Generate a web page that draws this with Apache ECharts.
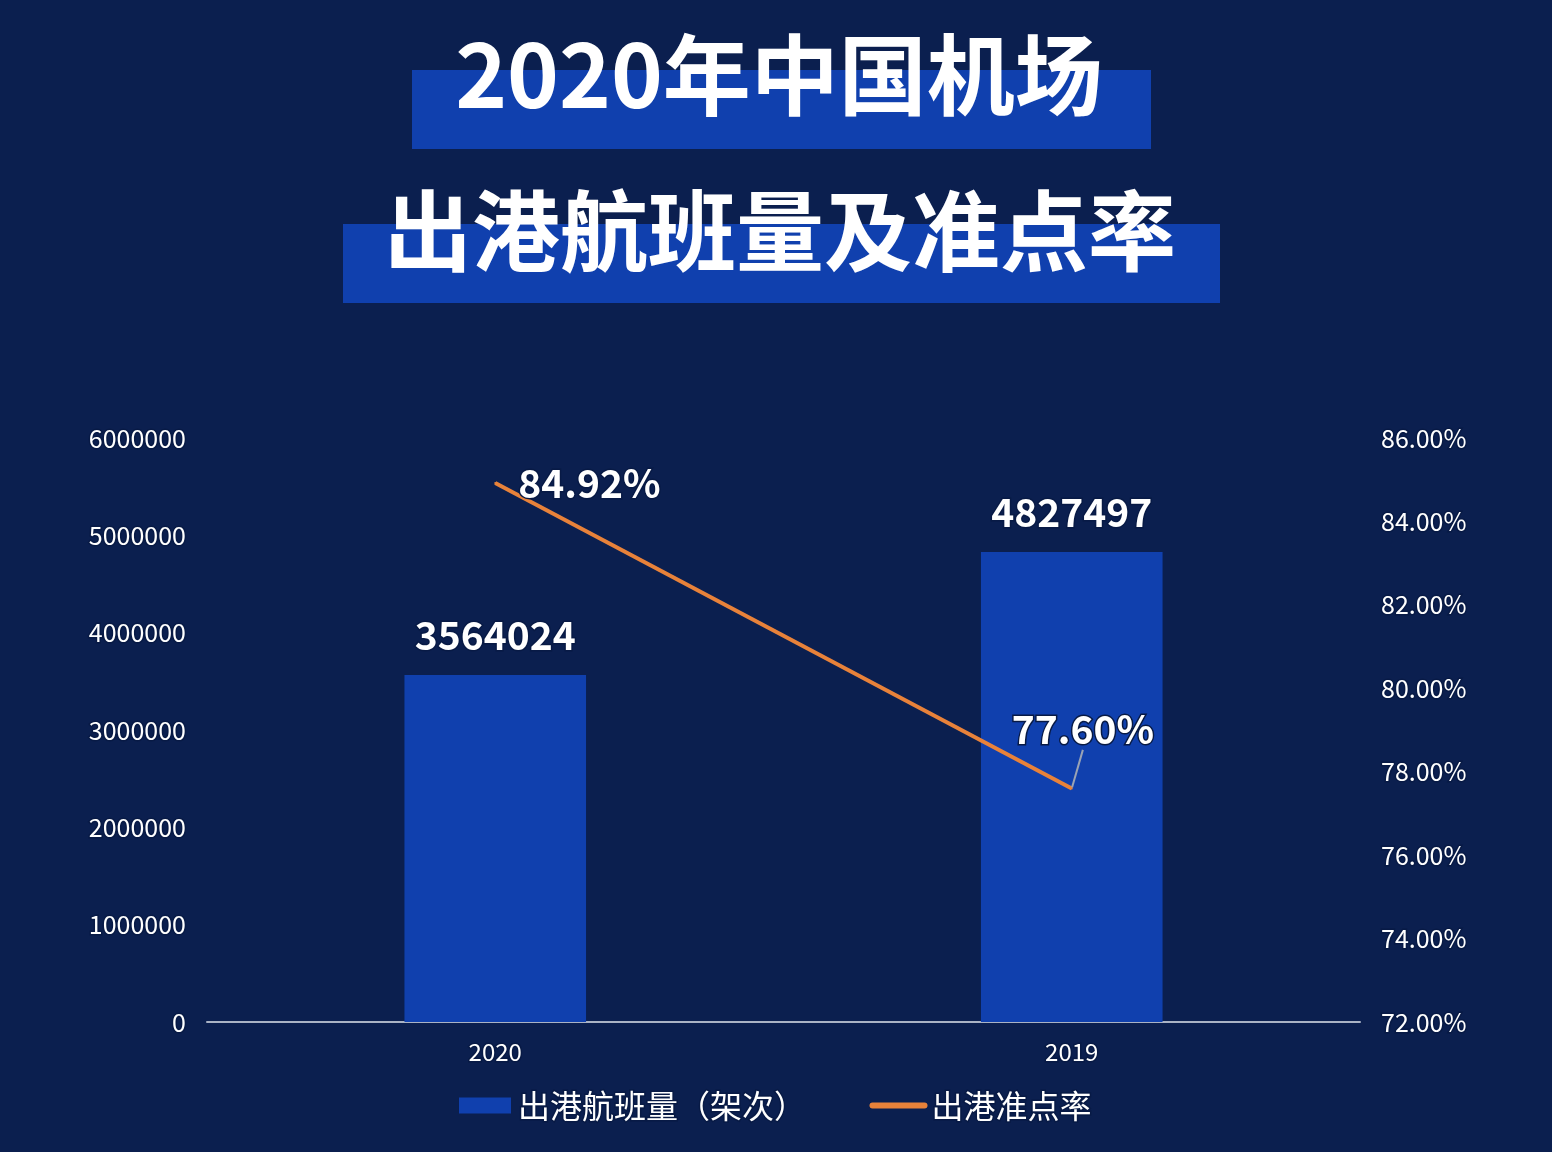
<!DOCTYPE html>
<html><head><meta charset="utf-8">
<script src="https://cdn.jsdelivr.net/npm/echarts@6/dist/echarts.min.js"></script>
<style>html,body{margin:0;padding:0;background:#0b1f4f}#c{width:1552px;height:1152px}</style>
</head><body><div id="c"></div>
<script>
const titleLine1 = '2020年中国机场';
const titleLine2 = '出港航班量及准点率';
const categories = ['2020', '2019'];
const flightCounts = [3564024, 4827497];
const onTimeRates = [84.92, 77.60];
const seriesNames = ['出港航班量（架次）', '出港准点率'];
const leftTicks = [0, 6000000, 1000000];
const rightTicks = [72, 86, 2];

const FONT = '"Noto Sans CJK SC","Noto Sans",sans-serif';
const BG = '#0b1f4f';
const BLUE = '#1040ae';
const ORANGE = '#e8823a';
const outline = {textBorderColor: '#081a45', textBorderWidth: 3};

const chart = echarts.init(document.getElementById('c'));
chart.setOption({
  backgroundColor: BG,
  animation: false,
  graphic: [
    {type: 'rect', shape: {x: 412, y: 70, width: 739, height: 79}, style: {fill: BLUE}, z: 1},
    {type: 'rect', shape: {x: 343, y: 224, width: 877, height: 79}, style: {fill: BLUE}, z: 1},
    {type: 'text', x: 779, y: 75, z: 2, style: {text: titleLine1, fill: '#fff', font: 'bold 88px ' + FONT, textAlign: 'center', textVerticalAlign: 'middle'}},
    {type: 'text', x: 780, y: 231, z: 2, style: {text: titleLine2, fill: '#fff', font: 'bold 88px ' + FONT, textAlign: 'center', textVerticalAlign: 'middle'}}
  ],
  legend: {
    bottom: 24, left: 'center', itemGap: 62, itemWidth: 52, itemHeight: 16,
    textStyle: Object.assign({color: '#fff', fontSize: 32, fontFamily: FONT, padding: [0, 0, 0, 2]}, outline),
    data: [
      {name: seriesNames[0], icon: 'rect'},
      {name: seriesNames[1], itemStyle: {opacity: 0}, lineStyle: {width: 6, cap: 'round', color: ORANGE}}
    ]
  },
  grid: {left: 207, right: 192, top: 438, bottom: 130, containLabel: false},
  xAxis: {
    type: 'category', data: categories,
    axisLine: {lineStyle: {color: '#aab3c5', width: 2}},
    axisTick: {show: false},
    axisLabel: Object.assign({color: '#fff', fontSize: 24, fontFamily: FONT, margin: 18}, outline)
  },
  yAxis: [
    {type: 'value', min: leftTicks[0], max: leftTicks[1], interval: leftTicks[2],
     axisLine: {show: false}, axisTick: {show: false}, splitLine: {show: false},
     axisLabel: Object.assign({color: '#fff', fontSize: 25, fontFamily: FONT, margin: 21,
       formatter: v => String(v)}, outline)},
    {type: 'value', min: rightTicks[0], max: rightTicks[1], interval: rightTicks[2],
     axisLine: {show: false}, axisTick: {show: false}, splitLine: {show: false},
     axisLabel: Object.assign({color: '#fff', fontSize: 25, fontFamily: FONT, margin: 21,
       formatter: v => v.toFixed(2) + '%'}, outline)}
  ],
  series: [
    {
      name: seriesNames[0], type: 'bar', data: flightCounts, barWidth: '31.5%',
      itemStyle: {color: BLUE},
      label: Object.assign({show: true, position: 'top', distance: 20, color: '#fff', fontSize: 39, fontWeight: 'bold', fontFamily: FONT}, outline)
    },
    {
      name: seriesNames[1], type: 'line', yAxisIndex: 1,
      data: onTimeRates.map((v, i) => i === 1 ? {value: v, labelLine: {show: true}} : {value: v}),
      symbol: 'circle', symbolSize: 2, itemStyle: {color: ORANGE},
      lineStyle: {color: ORANGE, width: 4},
      label: Object.assign({show: true, position: 'right', distance: 22, color: '#fff', fontSize: 39, fontWeight: 'bold', fontFamily: FONT,
        formatter: p => p.value.toFixed(2) + '%'}, outline),
      labelLine: {show: false, lineStyle: {color: '#9aa3b5', width: 2}},
      labelLayout: function (p) {
        if (p.dataIndex === 1) {
          return {x: p.rect.x - 59, y: p.rect.y - 78, draggable: false};
        }
        return {};
      }
    }
  ]
});
</script></body></html>
